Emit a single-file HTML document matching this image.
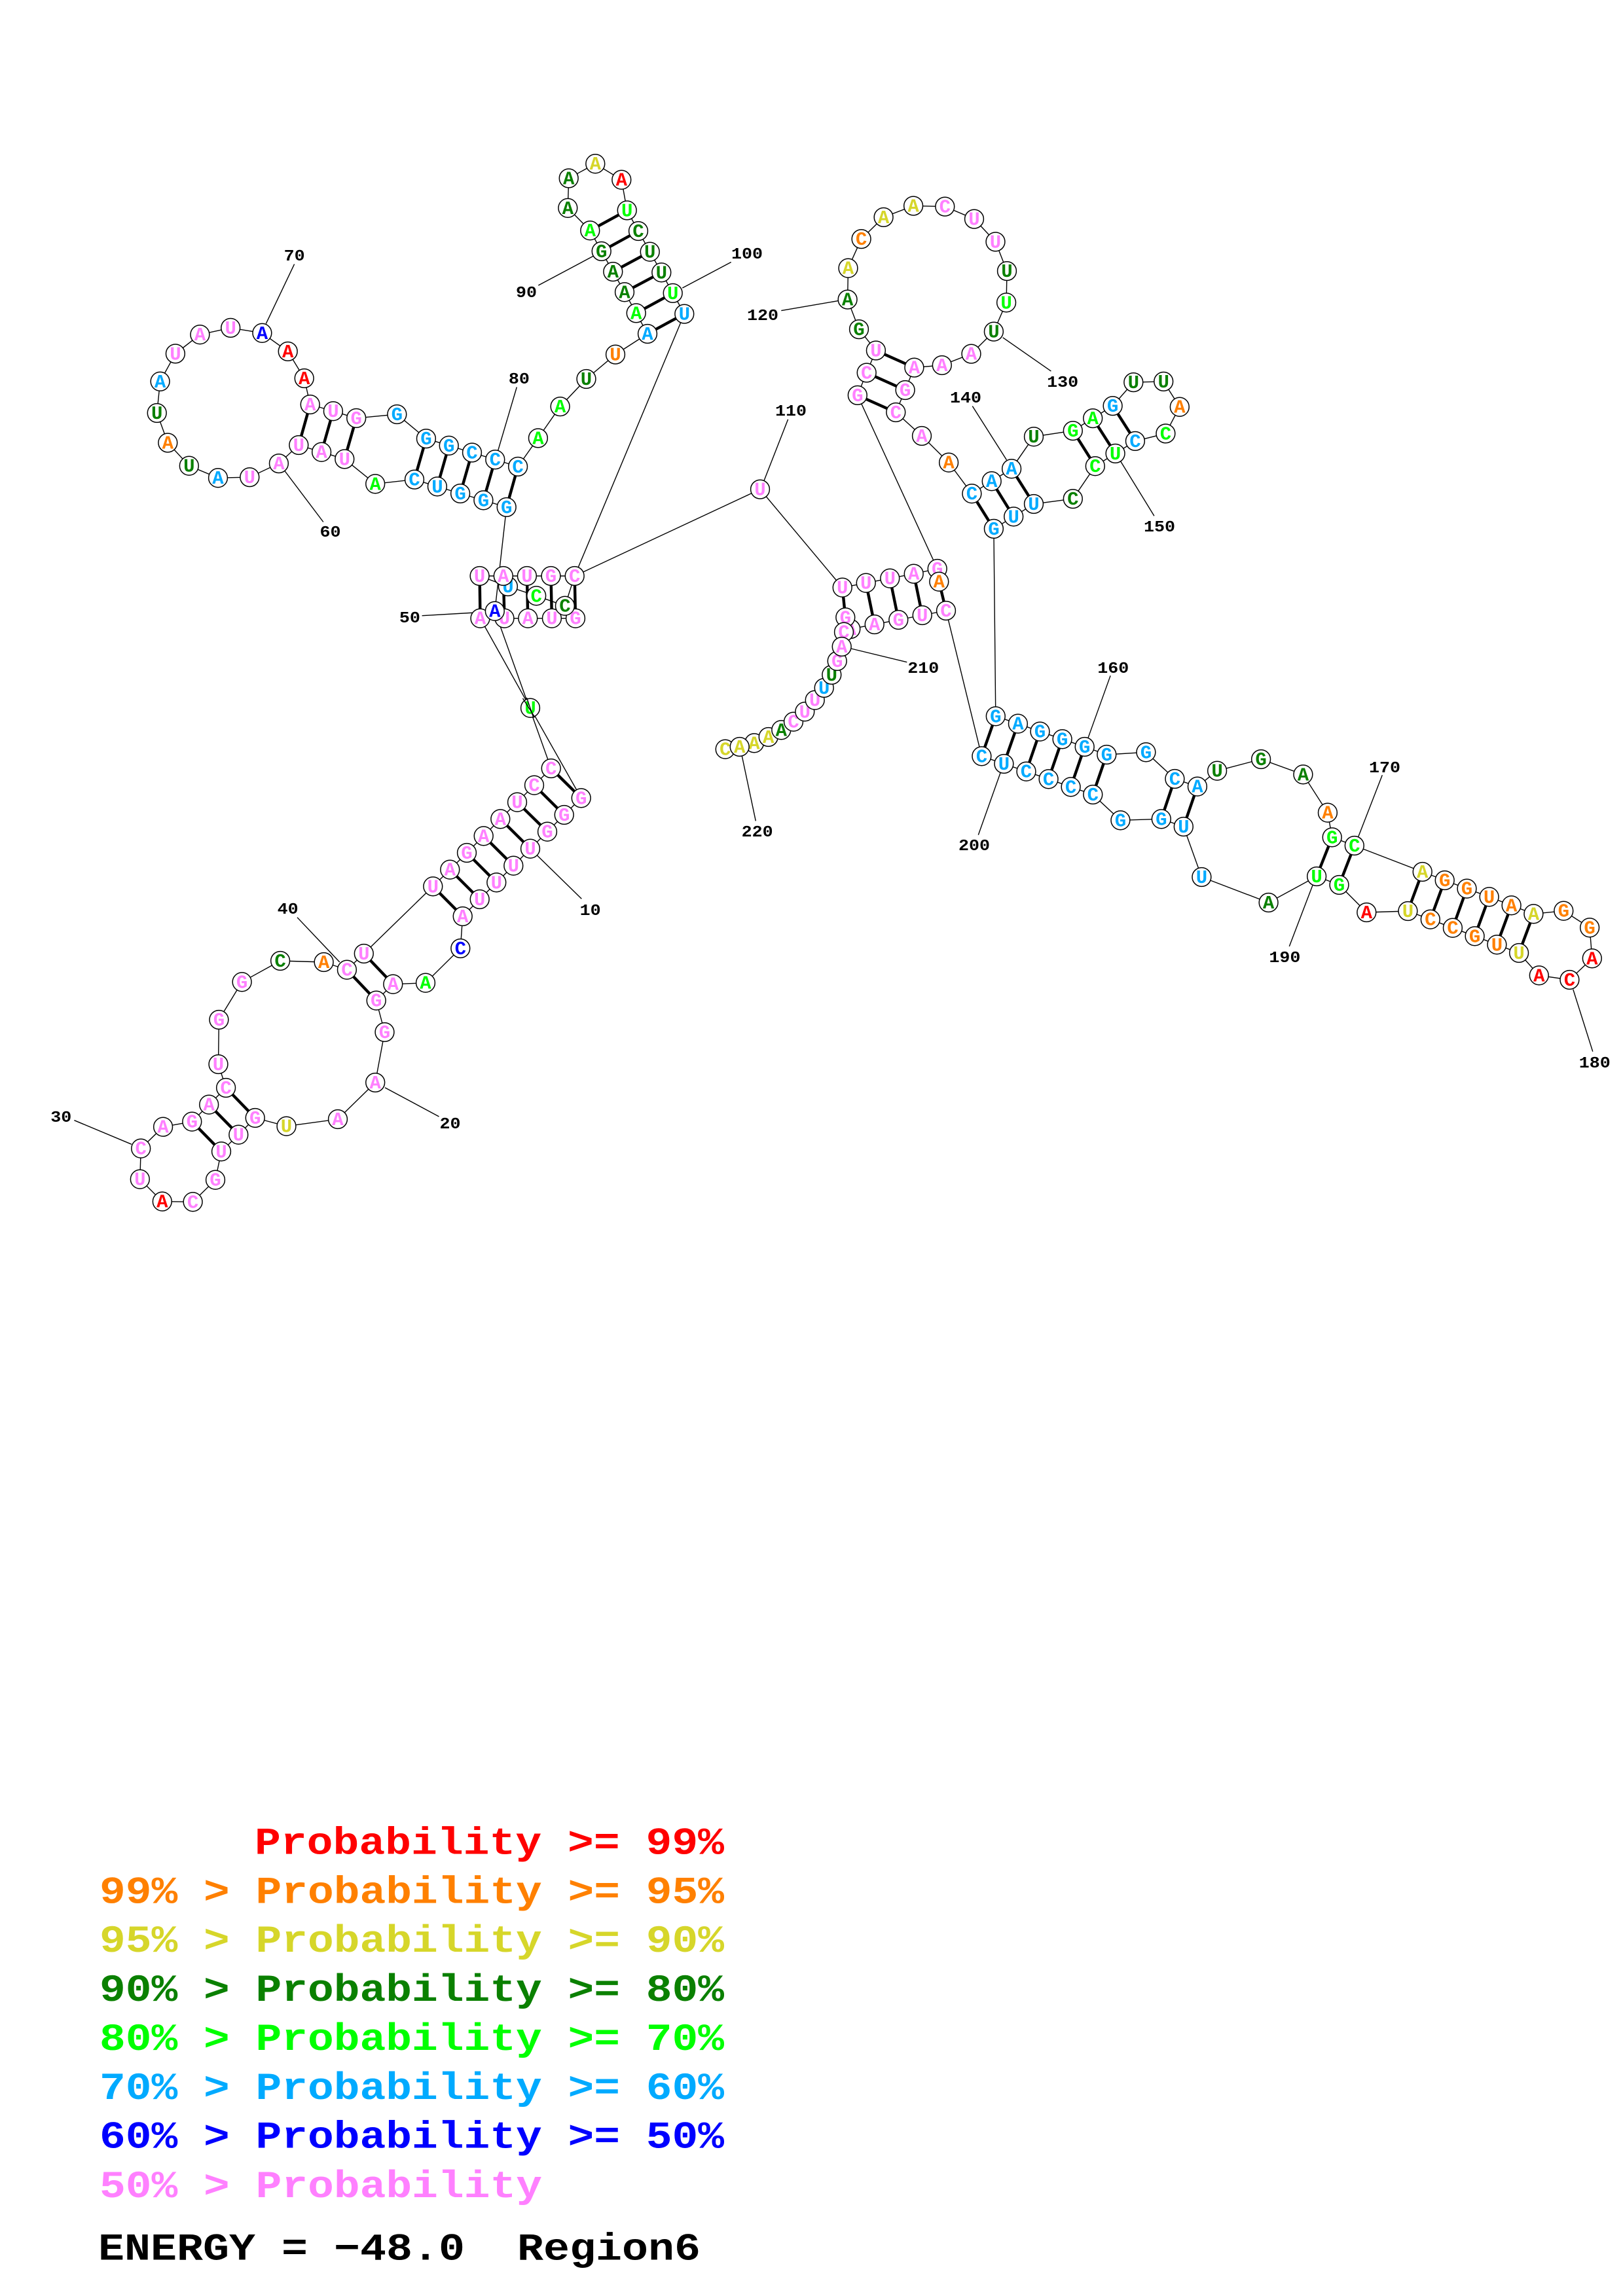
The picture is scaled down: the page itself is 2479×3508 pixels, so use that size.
<!DOCTYPE html>
<html><head><meta charset="utf-8"><title>Region6</title>
<style>
html,body{margin:0;padding:0;background:#fff}
svg{display:block}
.l{fill:none;stroke:#000;stroke-width:1.4}
.t{fill:none;stroke:#000;stroke-width:4.4}
circle{fill:#fff;stroke:#000;stroke-width:1.5;r:14.4px}
text{font-family:"Liberation Mono",monospace;font-weight:bold;white-space:pre}
.n text{font-size:29px;text-anchor:middle}
.lb{font-size:24px;text-anchor:middle;fill:#000}
.lg{font-size:58px}
.r{fill:#ff0000}.o{fill:#ff8000}.y{fill:#d6d62a}.d{fill:#0a8000}.g{fill:#00ff00}.b{fill:#00aaff}.u{fill:#0000ff}.p{fill:#ff80ff}.k{fill:#000}
</style></head><body>
<svg xmlns="http://www.w3.org/2000/svg" width="2479" height="3508" viewBox="0 0 2479 3508">
<rect width="2479" height="3508" fill="#fff"/>
<polyline class="l" points="879,944.7 842.9,944.7 806.3,944.7 770.5,944.7 733.5,944.7 810,1081.7 887.7,1219.3 861.7,1245 836,1270.7 810,1296.7 784.3,1322.7 758.3,1348.3 732.7,1374 706.7,1400 703.3,1449 650,1501.7 600.3,1503.7 574.7,1528.7 587.5,1577 573.2,1654 516,1710 437.5,1720.7 389.7,1708 364.3,1733.7 338,1759.3 329,1802.7 294.6,1836.3 247.8,1835.7 213.8,1801.7 215.2,1754.7 249.1,1721.7 293.3,1713.7 319.2,1687.7 345.1,1662 333.5,1626 334.4,1558 369.6,1500.3 428.1,1468 494.6,1470 529.9,1481.7 555.8,1457 661.3,1354.3 687.3,1328.7 713,1303 738.7,1277.3 764.3,1251.3 790,1225.7 816,1199.7 841.7,1174 755.8,933.7 773.7,774.9 738.4,764.3 703.1,754 667.9,743.3 633,732.6 573.2,739.3 526.3,701.4 491.1,690.7 456.3,680 425.9,708.1 381.3,729.1 333,730.2 288.8,711.7 256.3,676.5 239.7,631 244.6,582.8 267.9,540.4 305.4,511.2 352.2,500.9 400.4,508.8 439.7,536.9 464.7,578 473.7,618 508.9,628.2 544.2,638.9 606.3,633 650.9,670.1 685.7,680.8 721,691.5 756.3,702.2 791.1,712.9 821.9,669.4 855.6,621.1 895.5,579 940,541.6 989,510 971.7,478.4 954,446.3 936.3,415.1 918.7,383.9 901.3,352.2 867.3,317.8 868.7,272.4 909.3,250.2 949.3,274.7 957.7,321.4 975,353 992.7,384.7 1010.3,416.3 1027.7,447.9 1045.3,479.6 877.7,880 862.9,925.7 819.2,910.3 775.9,896 732.6,880 768.8,880 804.9,880 841.5,880 877.7,880 1161,747.6 1286.7,897.7 1322.7,890.7 1359.3,883.7 1395.7,876.7 1431.7,869 1309.8,603.9 1323.7,569.5 1337.9,535.5 1312,503.1 1294.6,457.6 1295.5,409.7 1315.6,365.1 1349.6,331.9 1395.1,314.5 1443.3,315.6 1488,334.6 1520.5,369.4 1538,414.1 1537.1,462.3 1517.9,506.6 1483.5,540.6 1438.8,558 1396.4,561.6 1382.6,596 1368.3,630 1408,666 1449.1,706.7 1484.4,754.2 1514.7,735.2 1545.1,716.2 1579,667.2 1638.8,658.1 1669.2,639.1 1699.6,620.1 1731.3,584.1 1777.2,582.9 1801.8,621.7 1780.4,662.4 1733.9,673.9 1703.6,692.9 1672.8,712.2 1638.8,762.1 1579,770 1548.2,789.3 1517.9,807.9 1520.8,1094.3 1554.9,1105.7 1588.5,1117.7 1622.6,1129.3 1656.7,1141 1690.3,1153 1750.4,1149.3 1794.4,1190 1828.9,1201.7 1859.1,1177.7 1926.1,1160 1990.4,1183.3 2027.9,1241.7 2034.7,1279.3 2068.8,1292 2172.7,1332 2206.7,1345 2240.5,1357.7 2274.6,1370.3 2308.6,1383.3 2342.4,1396.3 2388.3,1391.7 2428.1,1417.3 2431.8,1464.3 2397.4,1497 2350.8,1490.3 2320.1,1456 2286.4,1443.3 2252.6,1430.3 2218.9,1417.7 2184.8,1404.7 2150.4,1392 2087.3,1394 2045.5,1352 2011.1,1339 1937.6,1379 1835.4,1340 1807.8,1263 1773.8,1251.3 1711.4,1253.3 1669.3,1214 1635.6,1202.3 1601.6,1190.3 1567.5,1178.7 1533.4,1167 1499.4,1155.3 1445,933 1408.7,940 1372.3,947 1335.7,954 1299.3,961 1291.3,943.3 1289,965.7 1285.7,988 1278.7,1010 1270.3,1031 1258.7,1051 1244.7,1069.7 1229.3,1087.3 1212,1102.7 1193.3,1115.3 1173.7,1126 1152,1135.3 1129.7,1141 1107.7,1144.7"/>
<path class="l" d="M449.6 403.6L406.3 494.6M493.8 797.5L435.3 720M789.3 591.5L760.7 688.3M822.3 436L906.7 391M1116.7 400.5L1042.3 440M1203.6 640.7L1167 734.4M1193.3 474.6L1280.4 459.6M1605.4 567.1L1531.7 515.7M1485.3 620.5L1537.5 702.7M1762.9 788.2L1711.6 704.7M644.6 940.7L742.9 935M1385.3 1011.7L1300 991M1154.3 1254.3L1133.3 1155M1494.3 1275.7L1528.3 1180M1696.1 1032.3L1662 1127.3M1969.3 1446L2004.9 1352.7M2111.3 1184.3L2074.8 1278.3M2432.8 1606.7L2402.8 1511.7M888.3 1373.3L810 1296.7M670.5 1706L588 1661.7M113.4 1711.7L200.9 1748.3M454 1401.7L518.8 1470"/>
<path class="t" d="M841.7 1174L887.7 1219.3M816 1199.7L861.7 1245M790 1225.7L836 1270.7M764.3 1251.3L810 1296.7M738.7 1277.3L784.3 1322.7M713 1303L758.3 1348.3M687.3 1328.7L732.7 1374M661.3 1354.3L706.7 1400M555.8 1457L600.3 1503.7M529.9 1481.7L574.7 1528.7M345.1 1662L389.7 1708M319.2 1687.7L364.3 1733.7M293.3 1713.7L338 1759.3M473.7 618L456.3 680M508.9 628.2L491.1 690.7M544.2 638.9L526.3 701.4M650.9 670.1L633 732.6M685.7 680.8L667.9 743.3M721 691.5L703.1 754M756.3 702.2L738.4 764.3M791.1 712.9L773.7 774.9M901.3 352.2L957.7 321.4M918.7 383.9L975 353M936.3 415.1L992.7 384.7M954 446.3L1010.3 416.3M971.7 478.4L1027.7 447.9M989 510L1045.3 479.6M1337.9 535.5L1396.4 561.6M1323.7 569.5L1382.6 596M1309.8 603.9L1368.3 630M1484.4 754.2L1517.9 807.9M1514.7 735.2L1548.2 789.3M1545.1 716.2L1579 770M1638.8 658.1L1672.8 712.2M1669.2 639.1L1703.6 692.9M1699.6 620.1L1733.9 673.9M1520.8 1094.3L1499.4 1155.3M1554.9 1105.7L1533.4 1167M1588.5 1117.7L1567.5 1178.7M1622.6 1129.3L1601.6 1190.3M1656.7 1141L1635.6 1202.3M1690.3 1153L1669.3 1214M1794.4 1190L1773.8 1251.3M1828.9 1201.7L1807.8 1263M2034.7 1279.3L2011.1 1339M2068.8 1292L2045.5 1352M2172.7 1332L2150.4 1392M2206.7 1345L2184.8 1404.7M2240.5 1357.7L2218.9 1417.7M2274.6 1370.3L2252.6 1430.3M2308.6 1383.3L2286.4 1443.3M2342.4 1396.3L2320.1 1456M1286.7 897.7L1291.3 943.3M1322.7 890.7L1335.7 954M1359.3 883.7L1372.3 947M1395.7 876.7L1408.7 940M1434.3 888.7L1445 933M732.6 880L733.5 944.7M768.8 880L770.5 944.7M804.9 880L806.3 944.7M841.5 880L842.9 944.7M877.7 880L879 944.7"/>
<g class="n">
<circle cx="879" cy="944.7" r="14"/><text x="879" y="953.7" class="p">G</text>
<circle cx="842.9" cy="944.7" r="14"/><text x="842.9" y="953.7" class="p">U</text>
<circle cx="806.3" cy="944.7" r="14"/><text x="806.3" y="953.7" class="p">A</text>
<circle cx="770.5" cy="944.7" r="14"/><text x="770.5" y="953.7" class="p">U</text>
<circle cx="733.5" cy="944.7" r="14"/><text x="733.5" y="953.7" class="p">A</text>
<circle cx="810" cy="1081.7" r="14"/><text x="810" y="1090.7" class="g">U</text>
<circle cx="887.7" cy="1219.3" r="14"/><text x="887.7" y="1228.3" class="p">G</text>
<circle cx="861.7" cy="1245" r="14"/><text x="861.7" y="1254" class="p">G</text>
<circle cx="836" cy="1270.7" r="14"/><text x="836" y="1279.7" class="p">G</text>
<circle cx="810" cy="1296.7" r="14"/><text x="810" y="1305.7" class="p">U</text>
<circle cx="784.3" cy="1322.7" r="14"/><text x="784.3" y="1331.7" class="p">U</text>
<circle cx="758.3" cy="1348.3" r="14"/><text x="758.3" y="1357.3" class="p">U</text>
<circle cx="732.7" cy="1374" r="14"/><text x="732.7" y="1383" class="p">U</text>
<circle cx="706.7" cy="1400" r="14"/><text x="706.7" y="1409" class="p">A</text>
<circle cx="703.3" cy="1449" r="14"/><text x="703.3" y="1458" class="u">C</text>
<circle cx="650" cy="1501.7" r="14"/><text x="650" y="1510.7" class="g">A</text>
<circle cx="600.3" cy="1503.7" r="14"/><text x="600.3" y="1512.7" class="p">A</text>
<circle cx="574.7" cy="1528.7" r="14"/><text x="574.7" y="1537.7" class="p">G</text>
<circle cx="587.5" cy="1577" r="14"/><text x="587.5" y="1586" class="p">G</text>
<circle cx="573.2" cy="1654" r="14"/><text x="573.2" y="1663" class="p">A</text>
<circle cx="516" cy="1710" r="14"/><text x="516" y="1719" class="p">A</text>
<circle cx="437.5" cy="1720.7" r="14"/><text x="437.5" y="1729.7" class="y">U</text>
<circle cx="389.7" cy="1708" r="14"/><text x="389.7" y="1717" class="p">G</text>
<circle cx="364.3" cy="1733.7" r="14"/><text x="364.3" y="1742.7" class="p">U</text>
<circle cx="338" cy="1759.3" r="14"/><text x="338" y="1768.3" class="p">U</text>
<circle cx="329" cy="1802.7" r="14"/><text x="329" y="1811.7" class="p">G</text>
<circle cx="294.6" cy="1836.3" r="14"/><text x="294.6" y="1845.3" class="p">C</text>
<circle cx="247.8" cy="1835.7" r="14"/><text x="247.8" y="1844.7" class="r">A</text>
<circle cx="213.8" cy="1801.7" r="14"/><text x="213.8" y="1810.7" class="p">U</text>
<circle cx="215.2" cy="1754.7" r="14"/><text x="215.2" y="1763.7" class="p">C</text>
<circle cx="249.1" cy="1721.7" r="14"/><text x="249.1" y="1730.7" class="p">A</text>
<circle cx="293.3" cy="1713.7" r="14"/><text x="293.3" y="1722.7" class="p">G</text>
<circle cx="319.2" cy="1687.7" r="14"/><text x="319.2" y="1696.7" class="p">A</text>
<circle cx="345.1" cy="1662" r="14"/><text x="345.1" y="1671" class="p">C</text>
<circle cx="333.5" cy="1626" r="14"/><text x="333.5" y="1635" class="p">U</text>
<circle cx="334.4" cy="1558" r="14"/><text x="334.4" y="1567" class="p">G</text>
<circle cx="369.6" cy="1500.3" r="14"/><text x="369.6" y="1509.3" class="p">G</text>
<circle cx="428.1" cy="1468" r="14"/><text x="428.1" y="1477" class="d">C</text>
<circle cx="494.6" cy="1470" r="14"/><text x="494.6" y="1479" class="o">A</text>
<circle cx="529.9" cy="1481.7" r="14"/><text x="529.9" y="1490.7" class="p">C</text>
<circle cx="555.8" cy="1457" r="14"/><text x="555.8" y="1466" class="p">U</text>
<circle cx="661.3" cy="1354.3" r="14"/><text x="661.3" y="1363.3" class="p">U</text>
<circle cx="687.3" cy="1328.7" r="14"/><text x="687.3" y="1337.7" class="p">A</text>
<circle cx="713" cy="1303" r="14"/><text x="713" y="1312" class="p">G</text>
<circle cx="738.7" cy="1277.3" r="14"/><text x="738.7" y="1286.3" class="p">A</text>
<circle cx="764.3" cy="1251.3" r="14"/><text x="764.3" y="1260.3" class="p">A</text>
<circle cx="790" cy="1225.7" r="14"/><text x="790" y="1234.7" class="p">U</text>
<circle cx="816" cy="1199.7" r="14"/><text x="816" y="1208.7" class="p">C</text>
<circle cx="841.7" cy="1174" r="14"/><text x="841.7" y="1183" class="p">C</text>
<circle cx="755.8" cy="933.7" r="14"/><text x="755.8" y="942.7" class="u">A</text>
<circle cx="775.9" cy="896" r="14"/><text x="775.9" y="905" class="b">U</text>
<circle cx="819.2" cy="910.3" r="14"/><text x="819.2" y="919.3" class="g">C</text>
<circle cx="862.9" cy="925.7" r="14"/><text x="862.9" y="934.7" class="d">C</text>
<circle cx="732.6" cy="880" r="14"/><text x="732.6" y="889" class="p">U</text>
<circle cx="768.8" cy="880" r="14"/><text x="768.8" y="889" class="p">A</text>
<circle cx="804.9" cy="880" r="14"/><text x="804.9" y="889" class="p">U</text>
<circle cx="841.5" cy="880" r="14"/><text x="841.5" y="889" class="p">G</text>
<circle cx="877.7" cy="880" r="14"/><text x="877.7" y="889" class="p">C</text>
<circle cx="773.7" cy="774.9" r="14"/><text x="773.7" y="783.9" class="b">G</text>
<circle cx="738.4" cy="764.3" r="14"/><text x="738.4" y="773.3" class="b">G</text>
<circle cx="703.1" cy="754" r="14"/><text x="703.1" y="763" class="b">G</text>
<circle cx="667.9" cy="743.3" r="14"/><text x="667.9" y="752.3" class="b">U</text>
<circle cx="633" cy="732.6" r="14"/><text x="633" y="741.6" class="b">C</text>
<circle cx="573.2" cy="739.3" r="14"/><text x="573.2" y="748.3" class="g">A</text>
<circle cx="526.3" cy="701.4" r="14"/><text x="526.3" y="710.4" class="p">U</text>
<circle cx="491.1" cy="690.7" r="14"/><text x="491.1" y="699.7" class="p">A</text>
<circle cx="456.3" cy="680" r="14"/><text x="456.3" y="689" class="p">U</text>
<circle cx="425.9" cy="708.1" r="14"/><text x="425.9" y="717.1" class="p">A</text>
<circle cx="381.3" cy="729.1" r="14"/><text x="381.3" y="738.1" class="p">U</text>
<circle cx="333" cy="730.2" r="14"/><text x="333" y="739.2" class="b">A</text>
<circle cx="288.8" cy="711.7" r="14"/><text x="288.8" y="720.7" class="d">U</text>
<circle cx="256.3" cy="676.5" r="14"/><text x="256.3" y="685.5" class="o">A</text>
<circle cx="239.7" cy="631" r="14"/><text x="239.7" y="640" class="d">U</text>
<circle cx="244.6" cy="582.8" r="14"/><text x="244.6" y="591.8" class="b">A</text>
<circle cx="267.9" cy="540.4" r="14"/><text x="267.9" y="549.4" class="p">U</text>
<circle cx="305.4" cy="511.2" r="14"/><text x="305.4" y="520.2" class="p">A</text>
<circle cx="352.2" cy="500.9" r="14"/><text x="352.2" y="509.9" class="p">U</text>
<circle cx="400.4" cy="508.8" r="14"/><text x="400.4" y="517.8" class="u">A</text>
<circle cx="439.7" cy="536.9" r="14"/><text x="439.7" y="545.9" class="r">A</text>
<circle cx="464.7" cy="578" r="14"/><text x="464.7" y="587" class="r">A</text>
<circle cx="473.7" cy="618" r="14"/><text x="473.7" y="627" class="p">A</text>
<circle cx="508.9" cy="628.2" r="14"/><text x="508.9" y="637.2" class="p">U</text>
<circle cx="544.2" cy="638.9" r="14"/><text x="544.2" y="647.9" class="p">G</text>
<circle cx="606.3" cy="633" r="14"/><text x="606.3" y="642" class="b">G</text>
<circle cx="650.9" cy="670.1" r="14"/><text x="650.9" y="679.1" class="b">G</text>
<circle cx="685.7" cy="680.8" r="14"/><text x="685.7" y="689.8" class="b">G</text>
<circle cx="721" cy="691.5" r="14"/><text x="721" y="700.5" class="b">C</text>
<circle cx="756.3" cy="702.2" r="14"/><text x="756.3" y="711.2" class="b">C</text>
<circle cx="791.1" cy="712.9" r="14"/><text x="791.1" y="721.9" class="b">C</text>
<circle cx="821.9" cy="669.4" r="14"/><text x="821.9" y="678.4" class="g">A</text>
<circle cx="855.6" cy="621.1" r="14"/><text x="855.6" y="630.1" class="g">A</text>
<circle cx="895.5" cy="579" r="14"/><text x="895.5" y="588" class="d">U</text>
<circle cx="940" cy="541.6" r="14"/><text x="940" y="550.6" class="o">U</text>
<circle cx="989" cy="510" r="14"/><text x="989" y="519" class="b">A</text>
<circle cx="971.7" cy="478.4" r="14"/><text x="971.7" y="487.4" class="g">A</text>
<circle cx="954" cy="446.3" r="14"/><text x="954" y="455.3" class="d">A</text>
<circle cx="936.3" cy="415.1" r="14"/><text x="936.3" y="424.1" class="d">A</text>
<circle cx="918.7" cy="383.9" r="14"/><text x="918.7" y="392.9" class="d">G</text>
<circle cx="901.3" cy="352.2" r="14"/><text x="901.3" y="361.2" class="g">A</text>
<circle cx="867.3" cy="317.8" r="14"/><text x="867.3" y="326.8" class="d">A</text>
<circle cx="868.7" cy="272.4" r="14"/><text x="868.7" y="281.4" class="d">A</text>
<circle cx="909.3" cy="250.2" r="14"/><text x="909.3" y="259.2" class="y">A</text>
<circle cx="949.3" cy="274.7" r="14"/><text x="949.3" y="283.7" class="r">A</text>
<circle cx="957.7" cy="321.4" r="14"/><text x="957.7" y="330.4" class="g">U</text>
<circle cx="975" cy="353" r="14"/><text x="975" y="362" class="d">C</text>
<circle cx="992.7" cy="384.7" r="14"/><text x="992.7" y="393.7" class="d">U</text>
<circle cx="1010.3" cy="416.3" r="14"/><text x="1010.3" y="425.3" class="d">U</text>
<circle cx="1027.7" cy="447.9" r="14"/><text x="1027.7" y="456.9" class="g">U</text>
<circle cx="1045.3" cy="479.6" r="14"/><text x="1045.3" y="488.6" class="b">U</text>
<circle cx="1161" cy="747.6" r="14"/><text x="1161" y="756.6" class="p">U</text>
<circle cx="1286.7" cy="897.7" r="14"/><text x="1286.7" y="906.7" class="p">U</text>
<circle cx="1322.7" cy="890.7" r="14"/><text x="1322.7" y="899.7" class="p">U</text>
<circle cx="1359.3" cy="883.7" r="14"/><text x="1359.3" y="892.7" class="p">U</text>
<circle cx="1395.7" cy="876.7" r="14"/><text x="1395.7" y="885.7" class="p">A</text>
<circle cx="1431.7" cy="869" r="14"/><text x="1431.7" y="878" class="p">G</text>
<circle cx="1434.3" cy="888.7" r="14"/><text x="1434.3" y="897.7" class="o">A</text>
<circle cx="1445" cy="933" r="14"/><text x="1445" y="942" class="p">C</text>
<circle cx="1408.7" cy="940" r="14"/><text x="1408.7" y="949" class="p">U</text>
<circle cx="1372.3" cy="947" r="14"/><text x="1372.3" y="956" class="p">G</text>
<circle cx="1335.7" cy="954" r="14"/><text x="1335.7" y="963" class="p">A</text>
<circle cx="1299.3" cy="961" r="14"/><text x="1299.3" y="970" class="p">A</text>
<circle cx="1291.3" cy="943.3" r="14"/><text x="1291.3" y="952.3" class="p">G</text>
<circle cx="1107.7" cy="1144.7" r="14"/><text x="1107.7" y="1153.7" class="y">C</text>
<circle cx="1152" cy="1135.3" r="14"/><text x="1152" y="1144.3" class="y">A</text>
<circle cx="1129.7" cy="1141" r="14"/><text x="1129.7" y="1150" class="y">A</text>
<circle cx="1173.7" cy="1126" r="14"/><text x="1173.7" y="1135" class="y">A</text>
<circle cx="1193.3" cy="1115.3" r="14"/><text x="1193.3" y="1124.3" class="d">A</text>
<circle cx="1212" cy="1102.7" r="14"/><text x="1212" y="1111.7" class="p">C</text>
<circle cx="1229.3" cy="1087.3" r="14"/><text x="1229.3" y="1096.3" class="p">U</text>
<circle cx="1244.7" cy="1069.7" r="14"/><text x="1244.7" y="1078.7" class="p">U</text>
<circle cx="1258.7" cy="1051" r="14"/><text x="1258.7" y="1060" class="b">U</text>
<circle cx="1270.3" cy="1031" r="14"/><text x="1270.3" y="1040" class="d">U</text>
<circle cx="1278.7" cy="1010" r="14"/><text x="1278.7" y="1019" class="p">G</text>
<circle cx="1289" cy="965.7" r="14"/><text x="1289" y="974.7" class="p">C</text>
<circle cx="1285.7" cy="988" r="14"/><text x="1285.7" y="997" class="p">A</text>
<circle cx="1309.8" cy="603.9" r="14"/><text x="1309.8" y="612.9" class="p">G</text>
<circle cx="1323.7" cy="569.5" r="14"/><text x="1323.7" y="578.5" class="p">C</text>
<circle cx="1337.9" cy="535.5" r="14"/><text x="1337.9" y="544.5" class="p">U</text>
<circle cx="1312" cy="503.1" r="14"/><text x="1312" y="512.1" class="d">G</text>
<circle cx="1294.6" cy="457.6" r="14"/><text x="1294.6" y="466.6" class="d">A</text>
<circle cx="1295.5" cy="409.7" r="14"/><text x="1295.5" y="418.7" class="y">A</text>
<circle cx="1315.6" cy="365.1" r="14"/><text x="1315.6" y="374.1" class="o">C</text>
<circle cx="1349.6" cy="331.9" r="14"/><text x="1349.6" y="340.9" class="y">A</text>
<circle cx="1395.1" cy="314.5" r="14"/><text x="1395.1" y="323.5" class="y">A</text>
<circle cx="1443.3" cy="315.6" r="14"/><text x="1443.3" y="324.6" class="p">C</text>
<circle cx="1488" cy="334.6" r="14"/><text x="1488" y="343.6" class="p">U</text>
<circle cx="1520.5" cy="369.4" r="14"/><text x="1520.5" y="378.4" class="p">U</text>
<circle cx="1538" cy="414.1" r="14"/><text x="1538" y="423.1" class="d">U</text>
<circle cx="1537.1" cy="462.3" r="14"/><text x="1537.1" y="471.3" class="g">U</text>
<circle cx="1517.9" cy="506.6" r="14"/><text x="1517.9" y="515.6" class="d">U</text>
<circle cx="1483.5" cy="540.6" r="14"/><text x="1483.5" y="549.6" class="p">A</text>
<circle cx="1438.8" cy="558" r="14"/><text x="1438.8" y="567" class="p">A</text>
<circle cx="1396.4" cy="561.6" r="14"/><text x="1396.4" y="570.6" class="p">A</text>
<circle cx="1382.6" cy="596" r="14"/><text x="1382.6" y="605" class="p">G</text>
<circle cx="1368.3" cy="630" r="14"/><text x="1368.3" y="639" class="p">C</text>
<circle cx="1408" cy="666" r="14"/><text x="1408" y="675" class="p">A</text>
<circle cx="1449.1" cy="706.7" r="14"/><text x="1449.1" y="715.7" class="o">A</text>
<circle cx="1484.4" cy="754.2" r="14"/><text x="1484.4" y="763.2" class="b">C</text>
<circle cx="1514.7" cy="735.2" r="14"/><text x="1514.7" y="744.2" class="b">A</text>
<circle cx="1545.1" cy="716.2" r="14"/><text x="1545.1" y="725.2" class="b">A</text>
<circle cx="1579" cy="667.2" r="14"/><text x="1579" y="676.2" class="d">U</text>
<circle cx="1638.8" cy="658.1" r="14"/><text x="1638.8" y="667.1" class="g">G</text>
<circle cx="1669.2" cy="639.1" r="14"/><text x="1669.2" y="648.1" class="g">A</text>
<circle cx="1699.6" cy="620.1" r="14"/><text x="1699.6" y="629.1" class="b">G</text>
<circle cx="1731.3" cy="584.1" r="14"/><text x="1731.3" y="593.1" class="d">U</text>
<circle cx="1777.2" cy="582.9" r="14"/><text x="1777.2" y="591.9" class="d">U</text>
<circle cx="1801.8" cy="621.7" r="14"/><text x="1801.8" y="630.7" class="o">A</text>
<circle cx="1780.4" cy="662.4" r="14"/><text x="1780.4" y="671.4" class="g">C</text>
<circle cx="1733.9" cy="673.9" r="14"/><text x="1733.9" y="682.9" class="b">C</text>
<circle cx="1703.6" cy="692.9" r="14"/><text x="1703.6" y="701.9" class="g">U</text>
<circle cx="1672.8" cy="712.2" r="14"/><text x="1672.8" y="721.2" class="g">C</text>
<circle cx="1638.8" cy="762.1" r="14"/><text x="1638.8" y="771.1" class="d">C</text>
<circle cx="1579" cy="770" r="14"/><text x="1579" y="779" class="b">U</text>
<circle cx="1548.2" cy="789.3" r="14"/><text x="1548.2" y="798.3" class="b">U</text>
<circle cx="1517.9" cy="807.9" r="14"/><text x="1517.9" y="816.9" class="b">G</text>
<circle cx="1520.8" cy="1094.3" r="14"/><text x="1520.8" y="1103.3" class="b">G</text>
<circle cx="1554.9" cy="1105.7" r="14"/><text x="1554.9" y="1114.7" class="b">A</text>
<circle cx="1588.5" cy="1117.7" r="14"/><text x="1588.5" y="1126.7" class="b">G</text>
<circle cx="1622.6" cy="1129.3" r="14"/><text x="1622.6" y="1138.3" class="b">G</text>
<circle cx="1656.7" cy="1141" r="14"/><text x="1656.7" y="1150" class="b">G</text>
<circle cx="1690.3" cy="1153" r="14"/><text x="1690.3" y="1162" class="b">G</text>
<circle cx="1750.4" cy="1149.3" r="14"/><text x="1750.4" y="1158.3" class="b">G</text>
<circle cx="1794.4" cy="1190" r="14"/><text x="1794.4" y="1199" class="b">C</text>
<circle cx="1828.9" cy="1201.7" r="14"/><text x="1828.9" y="1210.7" class="b">A</text>
<circle cx="1859.1" cy="1177.7" r="14"/><text x="1859.1" y="1186.7" class="d">U</text>
<circle cx="1926.1" cy="1160" r="14"/><text x="1926.1" y="1169" class="d">G</text>
<circle cx="1990.4" cy="1183.3" r="14"/><text x="1990.4" y="1192.3" class="d">A</text>
<circle cx="2027.9" cy="1241.7" r="14"/><text x="2027.9" y="1250.7" class="o">A</text>
<circle cx="2034.7" cy="1279.3" r="14"/><text x="2034.7" y="1288.3" class="g">G</text>
<circle cx="2068.8" cy="1292" r="14"/><text x="2068.8" y="1301" class="g">C</text>
<circle cx="2172.7" cy="1332" r="14"/><text x="2172.7" y="1341" class="y">A</text>
<circle cx="2206.7" cy="1345" r="14"/><text x="2206.7" y="1354" class="o">G</text>
<circle cx="2240.5" cy="1357.7" r="14"/><text x="2240.5" y="1366.7" class="o">G</text>
<circle cx="2274.6" cy="1370.3" r="14"/><text x="2274.6" y="1379.3" class="o">U</text>
<circle cx="2308.6" cy="1383.3" r="14"/><text x="2308.6" y="1392.3" class="o">A</text>
<circle cx="2342.4" cy="1396.3" r="14"/><text x="2342.4" y="1405.3" class="y">A</text>
<circle cx="2388.3" cy="1391.7" r="14"/><text x="2388.3" y="1400.7" class="o">G</text>
<circle cx="2428.1" cy="1417.3" r="14"/><text x="2428.1" y="1426.3" class="o">G</text>
<circle cx="2431.8" cy="1464.3" r="14"/><text x="2431.8" y="1473.3" class="r">A</text>
<circle cx="2397.4" cy="1497" r="14"/><text x="2397.4" y="1506" class="r">C</text>
<circle cx="2350.8" cy="1490.3" r="14"/><text x="2350.8" y="1499.3" class="r">A</text>
<circle cx="2320.1" cy="1456" r="14"/><text x="2320.1" y="1465" class="y">U</text>
<circle cx="2286.4" cy="1443.3" r="14"/><text x="2286.4" y="1452.3" class="o">U</text>
<circle cx="2252.6" cy="1430.3" r="14"/><text x="2252.6" y="1439.3" class="o">G</text>
<circle cx="2218.9" cy="1417.7" r="14"/><text x="2218.9" y="1426.7" class="o">C</text>
<circle cx="2184.8" cy="1404.7" r="14"/><text x="2184.8" y="1413.7" class="o">C</text>
<circle cx="2150.4" cy="1392" r="14"/><text x="2150.4" y="1401" class="y">U</text>
<circle cx="2087.3" cy="1394" r="14"/><text x="2087.3" y="1403" class="r">A</text>
<circle cx="2045.5" cy="1352" r="14"/><text x="2045.5" y="1361" class="g">G</text>
<circle cx="2011.1" cy="1339" r="14"/><text x="2011.1" y="1348" class="g">U</text>
<circle cx="1937.6" cy="1379" r="14"/><text x="1937.6" y="1388" class="d">A</text>
<circle cx="1835.4" cy="1340" r="14"/><text x="1835.4" y="1349" class="b">U</text>
<circle cx="1807.8" cy="1263" r="14"/><text x="1807.8" y="1272" class="b">U</text>
<circle cx="1773.8" cy="1251.3" r="14"/><text x="1773.8" y="1260.3" class="b">G</text>
<circle cx="1711.4" cy="1253.3" r="14"/><text x="1711.4" y="1262.3" class="b">G</text>
<circle cx="1669.3" cy="1214" r="14"/><text x="1669.3" y="1223" class="b">C</text>
<circle cx="1635.6" cy="1202.3" r="14"/><text x="1635.6" y="1211.3" class="b">C</text>
<circle cx="1601.6" cy="1190.3" r="14"/><text x="1601.6" y="1199.3" class="b">C</text>
<circle cx="1567.5" cy="1178.7" r="14"/><text x="1567.5" y="1187.7" class="b">C</text>
<circle cx="1533.4" cy="1167" r="14"/><text x="1533.4" y="1176" class="b">U</text>
<circle cx="1499.4" cy="1155.3" r="14"/><text x="1499.4" y="1164.3" class="b">C</text>
</g>
<path class="l" d="M804.5 1066L815 1097M798.5 1067L817 1096"/>
<g class="lb">
<text class="lb" x="901.7" y="1398" textLength="32" lengthAdjust="spacingAndGlyphs">10</text>
<text class="lb" x="687.5" y="1724" textLength="32" lengthAdjust="spacingAndGlyphs">20</text>
<text class="lb" x="93.3" y="1714" textLength="32" lengthAdjust="spacingAndGlyphs">30</text>
<text class="lb" x="439.7" y="1396" textLength="32" lengthAdjust="spacingAndGlyphs">40</text>
<text class="lb" x="625.9" y="951" textLength="32" lengthAdjust="spacingAndGlyphs">50</text>
<text class="lb" x="504.5" y="820" textLength="32" lengthAdjust="spacingAndGlyphs">60</text>
<text class="lb" x="449.6" y="398" textLength="32" lengthAdjust="spacingAndGlyphs">70</text>
<text class="lb" x="792.9" y="586" textLength="32" lengthAdjust="spacingAndGlyphs">80</text>
<text class="lb" x="804" y="454" textLength="32" lengthAdjust="spacingAndGlyphs">90</text>
<text class="lb" x="1141" y="395" textLength="48" lengthAdjust="spacingAndGlyphs">100</text>
<text class="lb" x="1208" y="635" textLength="48" lengthAdjust="spacingAndGlyphs">110</text>
<text class="lb" x="1165" y="489" textLength="48" lengthAdjust="spacingAndGlyphs">120</text>
<text class="lb" x="1623.2" y="591" textLength="48" lengthAdjust="spacingAndGlyphs">130</text>
<text class="lb" x="1475" y="615" textLength="48" lengthAdjust="spacingAndGlyphs">140</text>
<text class="lb" x="1771" y="812" textLength="48" lengthAdjust="spacingAndGlyphs">150</text>
<text class="lb" x="1700.3" y="1028" textLength="48" lengthAdjust="spacingAndGlyphs">160</text>
<text class="lb" x="2115" y="1180" textLength="48" lengthAdjust="spacingAndGlyphs">170</text>
<text class="lb" x="2435.8" y="1631" textLength="48" lengthAdjust="spacingAndGlyphs">180</text>
<text class="lb" x="1962.4" y="1470" textLength="48" lengthAdjust="spacingAndGlyphs">190</text>
<text class="lb" x="1488" y="1299" textLength="48" lengthAdjust="spacingAndGlyphs">200</text>
<text class="lb" x="1410.3" y="1028" textLength="48" lengthAdjust="spacingAndGlyphs">210</text>
<text class="lb" x="1156.7" y="1278" textLength="48" lengthAdjust="spacingAndGlyphs">220</text>
</g>
<g class="lg">
<text x="389" y="2832.6" class="lg r" textLength="717" lengthAdjust="spacingAndGlyphs" xml:space="preserve">Probability &gt;= 99%</text>
<text x="152" y="2907.5" class="lg o" textLength="954" lengthAdjust="spacingAndGlyphs" xml:space="preserve">99% &gt; Probability &gt;= 95%</text>
<text x="152" y="2982" class="lg y" textLength="954" lengthAdjust="spacingAndGlyphs" xml:space="preserve">95% &gt; Probability &gt;= 90%</text>
<text x="152" y="3056.8" class="lg d" textLength="954" lengthAdjust="spacingAndGlyphs" xml:space="preserve">90% &gt; Probability &gt;= 80%</text>
<text x="152" y="3132" class="lg g" textLength="954" lengthAdjust="spacingAndGlyphs" xml:space="preserve">80% &gt; Probability &gt;= 70%</text>
<text x="152" y="3206.8" class="lg b" textLength="954" lengthAdjust="spacingAndGlyphs" xml:space="preserve">70% &gt; Probability &gt;= 60%</text>
<text x="152" y="3281.7" class="lg u" textLength="954" lengthAdjust="spacingAndGlyphs" xml:space="preserve">60% &gt; Probability &gt;= 50%</text>
<text x="152" y="3357" class="lg p" textLength="676" lengthAdjust="spacingAndGlyphs" xml:space="preserve">50% &gt; Probability</text>
<text x="150" y="3452.5" class="lg k" textLength="920" lengthAdjust="spacingAndGlyphs" xml:space="preserve">ENERGY = −48.0  Region6</text>
</g>
</svg>
</body></html>
